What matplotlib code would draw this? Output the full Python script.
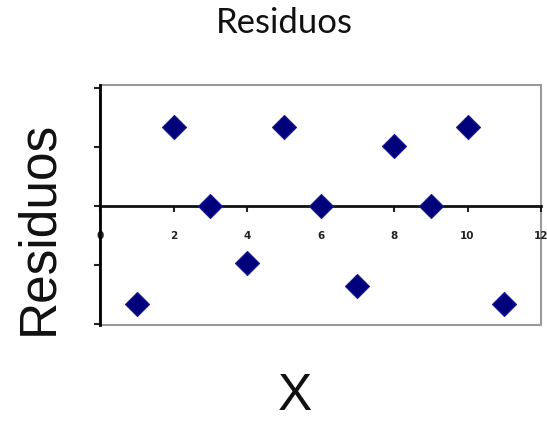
import matplotlib
matplotlib.use("Agg")
import matplotlib.pyplot as plt
from matplotlib.patches import Rectangle

# Residual values per observation
x_vals = [1, 2, 3, 4, 5, 6, 7, 8, 9, 10, 11]
residuals = [-1.66, 1.33, 0.0, -0.97, 1.33, 0.0, -1.36, 1.02, 0.0, 1.33, -1.66]
x_ticks = [0, 2, 4, 6, 8, 10, 12]
y_ticks = [-2, -1, 0, 1, 2]

fig = plt.figure(figsize=(5.47, 4.21), dpi=100)
ax = fig.add_axes([100 / 547, 1 - 325 / 421, 441 / 547, 240 / 421])

ax.scatter(x_vals, residuals, marker="D", s=150, color="#00007a",
           edgecolors="#1a1a9a", linewidths=0.8, zorder=3)

ax.set_xlim(0, 12)
ax.set_ylim(-2.02, 2.05)

# Light frame around the plotting area
ax.spines["top"].set_visible(False)
ax.spines["right"].set_visible(False)
ax.add_patch(Rectangle((0, 0), 1, 1, transform=ax.transAxes, fill=False,
                       edgecolor="#9a9a9a", linewidth=1.5, zorder=1, clip_on=False))

ax.spines["left"].set_color("black")
ax.spines["left"].set_linewidth(2)
ax.spines["left"].set_zorder(4)

# Horizontal axis drawn through zero
ax.spines["bottom"].set_position(("data", 0))
ax.spines["bottom"].set_color("#111111")
ax.spines["bottom"].set_linewidth(2)

ax.set_xticks(x_ticks)
ax.set_xticklabels([str(t) for t in x_ticks], fontsize=7.5, fontweight="bold",
                   color="#222222")
ax.tick_params(axis="x", direction="out", length=4, width=1.5, color="#222222",
               pad=14)
ax.set_yticks(y_ticks)
ax.set_yticklabels([])
ax.tick_params(axis="y", direction="out", length=4, width=1.5, color="#222222")

fig.text(284 / 547, 1 - 23 / 421, "Residuos", family="Lato", fontsize=25,
         ha="center", va="center", color="#111111")
fig.text(39 / 547, 1 - 228 / 421, "Residuos", family="Liberation Sans",
         fontsize=37, rotation=90, ha="center", va="center", color="#111111")
fig.text(295 / 547, 1 - 397 / 421, "X", family="Liberation Sans",
         fontsize=37, ha="center", va="center", color="#111111")

fig.savefig("out.png", dpi=100)
